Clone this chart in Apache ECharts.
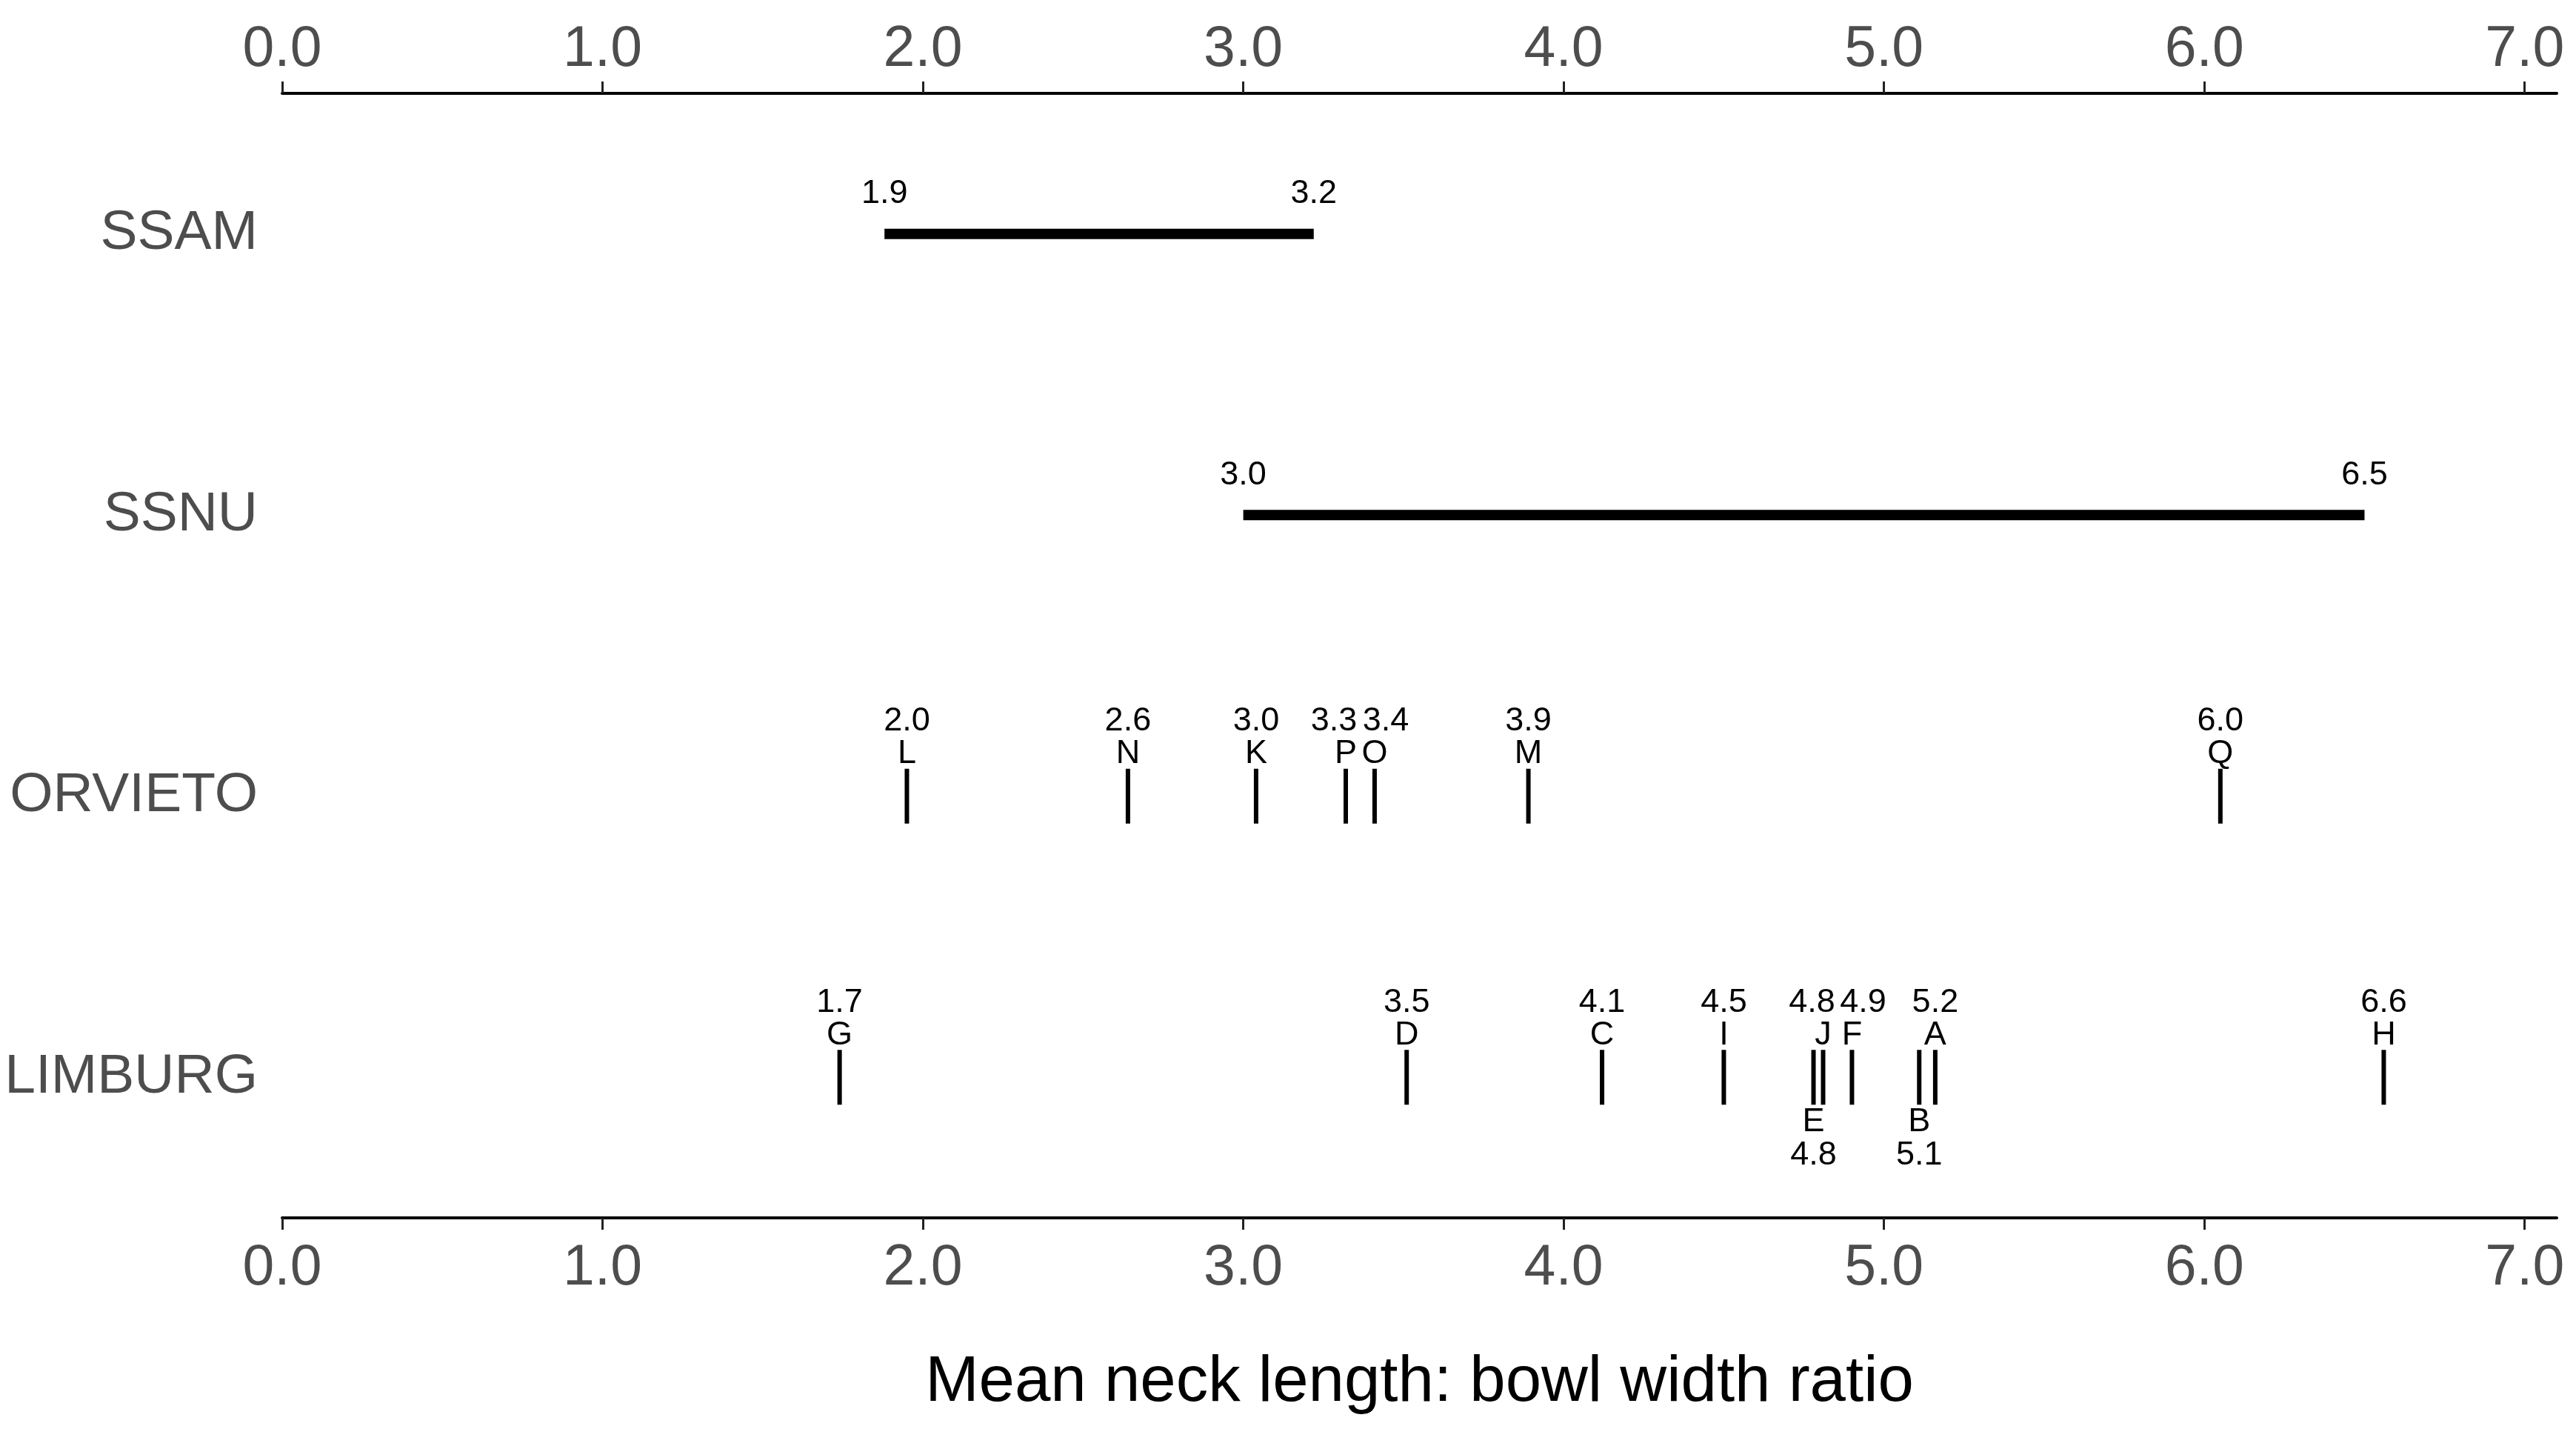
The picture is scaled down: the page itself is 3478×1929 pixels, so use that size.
<!DOCTYPE html>
<html>
<head>
<meta charset="utf-8">
<title>Mean neck length: bowl width ratio</title>
<script src="https://cdn.jsdelivr.net/npm/echarts@6/dist/echarts.min.js"></script>
<style>
  html, body { margin: 0; padding: 0; background: #fff; }
  #chart { width: 3478px; height: 1929px; }
</style>
</head>
<body>
<div id="chart"></div>
<script>
// rows, top to bottom
var rows = ['SSAM', 'SSNU', 'ORVIETO', 'LIMBURG'];
var xTicks = [0, 1, 2, 3, 4, 5, 6, 7];

// range rows (min - max)
var rangeRows = ['SSAM', 'SSNU'];
var rangeMin = [1.88, 3.0];
var rangeMax = [3.22, 6.5];
var rangeMinText = ['1.9', '3.0'];
var rangeMaxText = ['3.2', '6.5'];

// Orvieto individual pieces
var orvietoCodes = ['L', 'N', 'K', 'P', 'O', 'M', 'Q'];
var orvietoValues = [1.95, 2.64, 3.04, 3.32, 3.41, 3.89, 6.05];
var orvietoText = ['2.0', '2.6', '3.0', '3.3', '3.4', '3.9', '6.0'];

// Limburg individual pieces
var limburgCodes = ['G', 'D', 'C', 'I', 'E', 'J', 'F', 'B', 'A', 'H'];
var limburgValues = [1.74, 3.51, 4.12, 4.50, 4.78, 4.81, 4.90, 5.11, 5.16, 6.56];
var limburgText = ['1.7', '3.5', '4.1', '4.5', '4.8', '4.8', '4.9', '5.1', '5.2', '6.6'];
var labelsBelow = ['E', 'B'];

var FONT = '"Liberation Sans", Arial, Helvetica, sans-serif';
var GREY = '#4d4d4d';
// pushes crowded value labels apart (px), like a repel
var numberNudge = { P: -16, O: 15, J: -15, F: 15 };

var rangeData = rangeRows.map(function (r, i) {
    return [rangeMin[i], rangeMax[i], r, rangeMinText[i], rangeMaxText[i]];
});

var pieceData = [];
orvietoCodes.forEach(function (c, i) {
    pieceData.push([orvietoValues[i], 'ORVIETO', c, orvietoText[i], 0]);
});
limburgCodes.forEach(function (c, i) {
    pieceData.push([limburgValues[i], 'LIMBURG', c, limburgText[i], labelsBelow.indexOf(c) >= 0 ? 1 : 0]);
});

function smallText(text, x, y) {
    return {
        type: 'text',
        style: {
            text: text, x: x, y: y,
            align: 'center', verticalAlign: 'middle',
            fill: '#000', fontSize: 45, fontFamily: FONT
        }
    };
}

var chartDom = document.getElementById('chart');
var myChart = echarts.init(chartDom);

function axisCommon(pos, margin) {
    return {
        type: 'value',
        position: pos,
        min: 0,
        max: 7.1,
        splitLine: { show: false },
        axisLine: { show: true, lineStyle: { color: '#000', width: 4 } },
        axisTick: { show: true, customValues: xTicks, length: 16, lineStyle: { color: '#222', width: 3 } },
        axisLabel: {
            customValues: xTicks,
            margin: margin,
            color: GREY,
            fontSize: 77,
            fontFamily: FONT,
            formatter: function (v) { return v.toFixed(1); }
        }
    };
}

var bottomAxis = axisCommon('bottom', 30);
bottomAxis.name = 'Mean neck length: bowl width ratio';
bottomAxis.nameLocation = 'middle';
bottomAxis.nameGap = 180;
bottomAxis.nameTextStyle = { color: '#000', fontSize: 87, fontFamily: FONT };

var option = {
    animation: false,
    backgroundColor: '#fff',
    grid: { left: 381, right: 26, top: 126, bottom: 285 },
    xAxis: [axisCommon('top', 20), bottomAxis],
    yAxis: {
        type: 'category',
        data: rows,
        inverse: true,
        axisLine: { show: false },
        axisTick: { show: false },
        splitLine: { show: false },
        axisLabel: { color: GREY, fontSize: 75, fontFamily: FONT, margin: 33 }
    },
    series: [
        {
            name: 'range',
            type: 'custom',
            xAxisIndex: 1,
            encode: { x: [0, 1], y: 2 },
            data: rangeData,
            renderItem: function (params, api) {
                var row = api.value(2);
                var p0 = api.coord([api.value(0), row]);
                var p1 = api.coord([api.value(1), row]);
                var item = rangeData[params.dataIndex];
                return {
                    type: 'group',
                    children: [
                        {
                            type: 'line',
                            shape: { x1: p0[0], y1: p0[1], x2: p1[0], y2: p1[1] },
                            style: { stroke: '#000', lineWidth: 14, lineCap: 'butt' }
                        },
                        smallText(item[3], p0[0], p0[1] - 54),
                        smallText(item[4], p1[0], p1[1] - 54)
                    ]
                };
            }
        },
        {
            name: 'pieces',
            type: 'custom',
            xAxisIndex: 1,
            encode: { x: 0, y: 1 },
            data: pieceData,
            renderItem: function (params, api) {
                var p = api.coord([api.value(0), api.value(1)]);
                var item = pieceData[params.dataIndex];
                var below = item[4] === 1;
                var dx = numberNudge[item[2]] || 0;
                var kids = [{
                    type: 'line',
                    shape: { x1: p[0], y1: p[1] - 37, x2: p[0], y2: p[1] + 37 },
                    style: { stroke: '#000', lineWidth: 6, lineCap: 'butt' }
                }];
                if (below) {
                    kids.push(smallText(item[2], p[0], p[1] + 60));
                    kids.push(smallText(item[3], p[0] + dx, p[1] + 105));
                } else {
                    kids.push(smallText(item[2], p[0], p[1] - 57));
                    kids.push(smallText(item[3], p[0] + dx, p[1] - 101));
                }
                return { type: 'group', children: kids };
            }
        }
    ]
};

myChart.setOption(option);
</script>
</body>
</html>
